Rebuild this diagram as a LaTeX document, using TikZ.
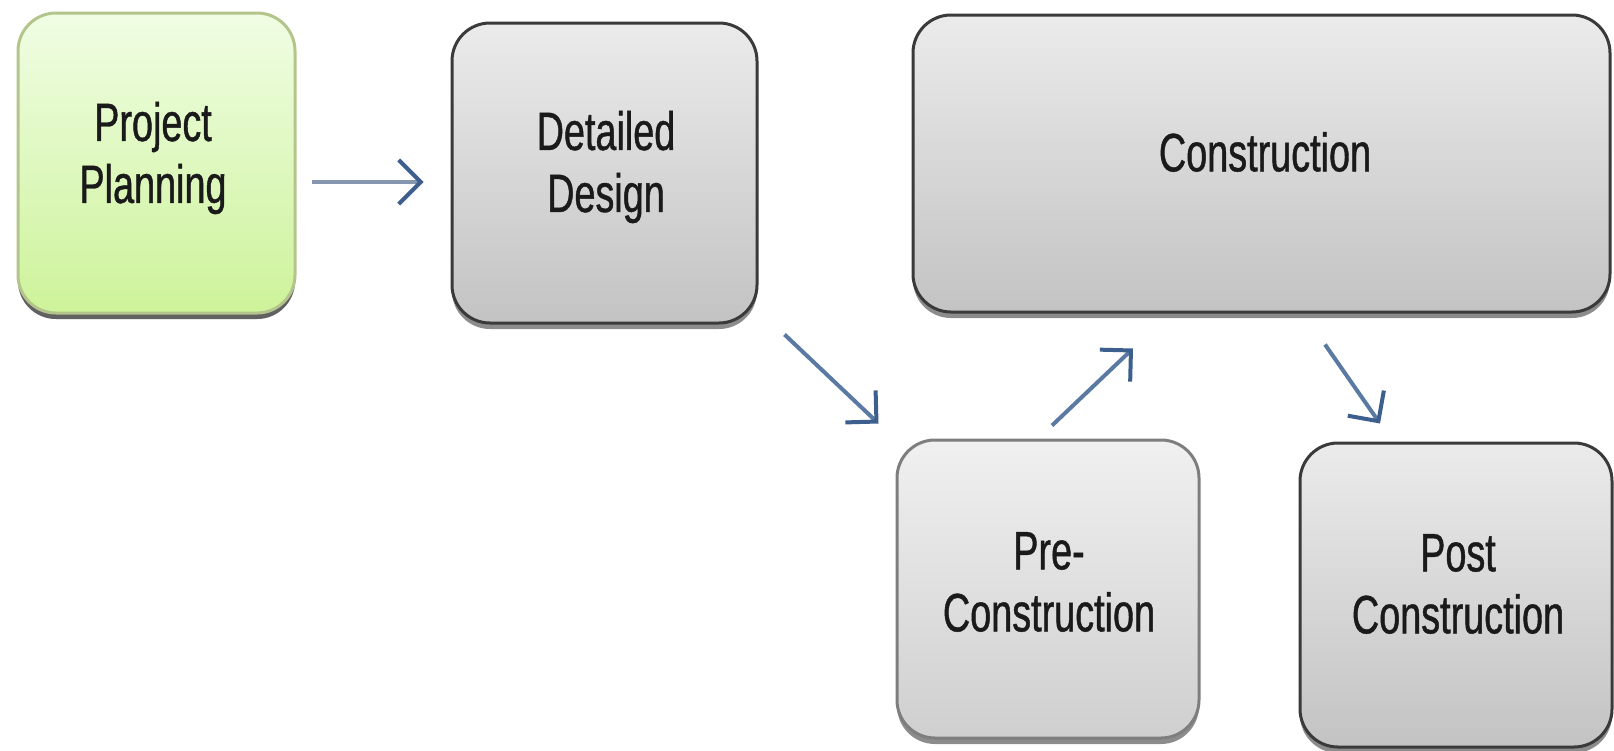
\documentclass[tikz,border=0pt]{standalone}
\usepackage{fontspec}
\setmainfont{Liberation Sans}[FakeStretch=0.70,FakeBold=0.8]
\usetikzlibrary{arrows.meta,shadows}
\definecolor{grayline}{HTML}{3A3A3A}
\definecolor{preline}{HTML}{7E7E7E}
\definecolor{graytop}{HTML}{EBEBEB}
\definecolor{graybot}{HTML}{C3C3C3}
\definecolor{pretop}{HTML}{F0F0F0}
\definecolor{prebot}{HTML}{CFCFCF}
\definecolor{greentop}{HTML}{F0FDE4}
\definecolor{greenbot}{HTML}{CDF39A}
\definecolor{greenline}{HTML}{B3C58A}
\definecolor{shaftcol}{HTML}{8596AE}
\definecolor{diagcol}{HTML}{5A7AA3}
\definecolor{tipcol}{HTML}{3D5F8E}
\definecolor{txt}{HTML}{1A1A1A}
\begin{document}
\begin{tikzpicture}[x=1pt,y=-1pt,
  boxbase/.style={rectangle, rounded corners=38pt, line width=3pt, inner sep=0pt,
    drop shadow={shadow xshift=0pt, shadow yshift=-6pt, opacity=0.45, fill=black}},
  graybox/.style={boxbase, draw=grayline, top color=graytop, bottom color=graybot},
  prebox/.style={boxbase, draw=preline, top color=pretop, bottom color=prebot},
  greenbox/.style={boxbase, draw=greenline, top color=greentop, bottom color=greenbot,
    drop shadow={shadow xshift=0pt, shadow yshift=-6pt, opacity=0.3, fill=black}},
  lbl/.style={align=center, text=txt, inner sep=0pt, font=\fontsize{54}{62}\selectfont},
  flow/.style={line width=4pt, draw=shaftcol,
    -{Straight Barb[length=22pt, width=44pt, color=tipcol]}},
  dflow/.style={flow, draw=diagcol}
]
\useasboundingbox (0,0) rectangle (1614,750);
\fill[white] (0,0) rectangle (1614,750);

% boxes
\node[greenbox, minimum width=277pt, minimum height=300pt] (pp) at (156.5,163) {};
\node[graybox, minimum width=305pt, minimum height=300pt] (dd) at (604.5,173) {};
\node[graybox, minimum width=697pt, minimum height=297pt] (con) at (1261.5,163.5) {};
\node[prebox, minimum width=302pt, minimum height=298pt] (pre) at (1048,589) {};
\node[graybox, minimum width=312pt, minimum height=304pt] (post) at (1456,595) {};

% labels
\node[lbl] (ppt) at (153,158) {Project\\Planning};
\node[lbl] (ddt) at (606,167) {Detailed\\Design};
\node[lbl] (cont) at (1265,152) {Construction};
\node[lbl] (pret) at (1049,582) {Pre-\\Construction};
\node[lbl] (postt) at (1458,584) {Post\\Construction};

% connectors
\draw[flow] ([xshift=15pt,yshift=-19pt]pp.east) -- ([xshift=-27pt,yshift=-9pt]dd.west);
\draw[dflow] ([xshift=26pt,yshift=-10pt]dd.south east) -- ([xshift=-17pt,yshift=15pt]pre.north west);
\draw[dflow] ([xshift=4pt,yshift=13pt]pre.north) -- ([xshift=-128.5pt,yshift=-35pt]con.south);
\draw[dflow] ([xshift=63.5pt,yshift=-31pt]con.south) -- ([xshift=-76pt,yshift=18pt]post.north);
\end{tikzpicture}
\end{document}
